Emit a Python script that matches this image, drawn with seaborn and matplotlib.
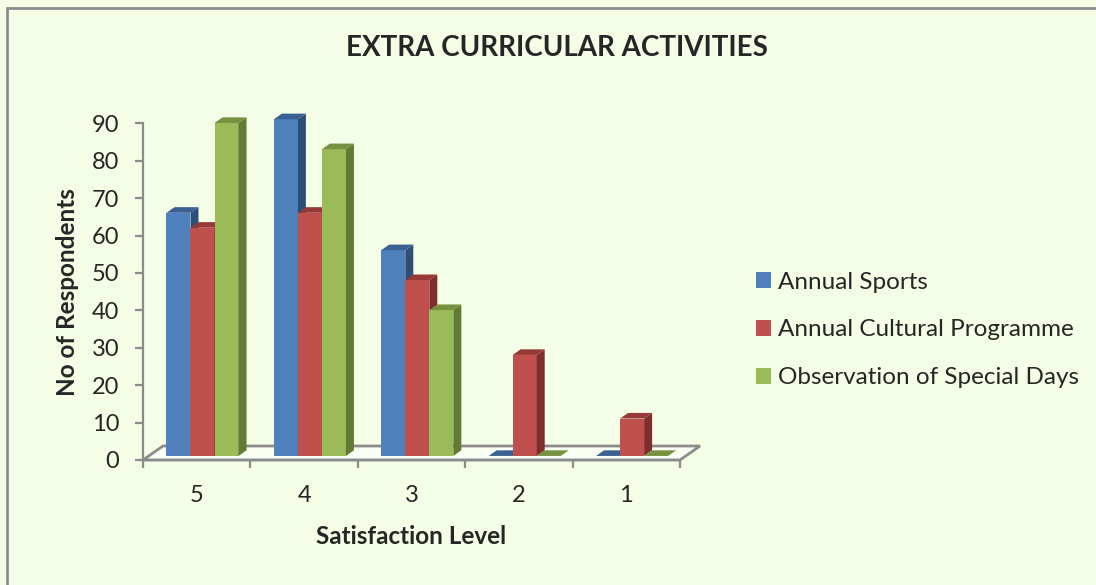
import matplotlib
matplotlib.use("Agg")
import matplotlib.pyplot as plt
import seaborn as sns
import pandas as pd
import numpy as np
from matplotlib.patches import Polygon, Rectangle

# -----------------------------
# Data
# -----------------------------
levels = ["5", "4", "3", "2", "1"]
series = ["Annual Sports", "Annual Cultural Programme", "Observation of Special Days"]
sports = [65, 90, 55, 0, 0]
cultural = [61, 65, 47, 27, 10]
special_days = [89, 82, 39, 0, 0]

front_colors = ["#4F81BD", "#C0504D", "#9BBB59"]
side_colors = ["#2F4E77", "#7E2F2D", "#617A34"]
top_colors = ["#3A6192", "#973A37", "#76913F"]

df = pd.DataFrame({
    "level": levels * 3,
    "series": [series[0]] * 5 + [series[1]] * 5 + [series[2]] * 5,
    "value": sports + cultural + special_days,
})

# -----------------------------
# Figure setup
# -----------------------------
sns.set_style("white")
plt.rcParams["font.family"] = ["Lato", "DejaVu Sans"]
bg = "#F4FDE6"
grey = "#8C8C8C"

fig = plt.figure(figsize=(10.96, 5.85), dpi=100)
fig.patch.set_facecolor(bg)
ax = fig.add_axes([143 / 1096, 125 / 585, 537 / 1096, 336.7 / 585])
ax.set_facecolor("none")

sns.barplot(data=df, x="level", y="value", hue="series", order=levels,
            hue_order=series, palette=front_colors, width=0.671,
            saturation=1, ax=ax, legend=True, zorder=3)

ax.set_xlim(-0.5, 4.5)
ax.set_ylim(0, 90)


def shift(pt, dx, dy):
    # move a data point by a pixel offset (3D depth)
    d = ax.transData.transform(pt) + np.array([dx, dy])
    return ax.transData.inverted().transform(d)


# floor depth in pixels and bar depth
floor_d = np.array([20.0, 14.0])
bar_front = 0.29 * floor_d
bar_d = 0.4 * floor_d

# floor
p0 = np.array([-0.5, 0])
p1 = np.array([4.5, 0])
floor = Polygon([p0, p1, shift(p1, *floor_d), shift(p0, *floor_d)],
                closed=True, facecolor="#FAFFF3", edgecolor=grey, lw=2,
                zorder=1, clip_on=False)
ax.add_patch(floor)

# bars -> 3D boxes
bars = [p for p in ax.patches if isinstance(p, Rectangle) and p is not floor]
bars = sorted(bars, key=lambda r: r.get_x())
for i, r in enumerate(bars):
    k = int(np.argmin([np.linalg.norm(np.array(r.get_facecolor()[:3]) -
                                      np.array(matplotlib.colors.to_rgb(c)))
                       for c in front_colors]))
    x0, w, h = r.get_x(), r.get_width(), r.get_height()
    bl = shift((x0, 0), *bar_front)
    tr = shift((x0 + w, h), *bar_front)
    r.set_x(bl[0])
    r.set_y(bl[1])
    r.set_width(tr[0] - bl[0])
    r.set_height(tr[1] - bl[1])
    r.set_edgecolor("none")
    r.set_clip_on(False)
    r.set_zorder(3 + i * 0.01)
    x_l, x_r, y_b, y_t = bl[0], tr[0], bl[1], tr[1]
    side = Polygon([(x_r, y_b), shift((x_r, y_b), *bar_d),
                    shift((x_r, y_t), *bar_d), (x_r, y_t)],
                   closed=True, facecolor=side_colors[k], edgecolor="none",
                   zorder=3 + i * 0.01 + 0.001, clip_on=False)
    top = Polygon([(x_l, y_t), (x_r, y_t), shift((x_r, y_t), *bar_d),
                   shift((x_l, y_t), *bar_d)],
                  closed=True, facecolor=top_colors[k], edgecolor="none",
                  zorder=3 + i * 0.01 + 0.002, clip_on=False)
    ax.add_patch(side)
    ax.add_patch(top)

# axes styling
for s in ["top", "right"]:
    ax.spines[s].set_visible(False)
for s in ["left", "bottom"]:
    ax.spines[s].set_color(grey)
    ax.spines[s].set_linewidth(1.6)
    ax.spines[s].set_zorder(2)

ax.set_yticks(range(0, 91, 10))
ax.tick_params(axis="y", direction="out", length=6, width=1.6, color=grey,
               labelsize=17, pad=11, left=True)
ax.set_xticks(np.arange(-0.5, 4.6, 1), minor=True)
ax.tick_params(axis="x", which="minor", direction="out", length=6, width=1.6,
               color=grey, bottom=True)
ax.tick_params(axis="x", which="major", length=0, labelsize=17, pad=18)
ax.grid(False)

ax.set_xlabel("Satisfaction Level", fontsize=17.5, fontweight="bold", labelpad=14)
ax.set_ylabel("No of Respondents", fontsize=17.5, fontweight="bold", labelpad=9)
fig.text(557 / 1096, 1 - 48 / 585, "EXTRA CURRICULAR ACTIVITIES",
         fontsize=20, fontweight="bold", ha="center", va="center")

# legend
handles, labels = ax.get_legend_handles_labels()
ax.get_legend().remove()
fig.legend(handles, labels, loc="center left",
           bbox_to_anchor=(734 / 1096, 1 - 330 / 585), frameon=False,
           fontsize=17.5, handlelength=0.62, handleheight=0.62,
           handletextpad=0.3, labelspacing=1.1)

# outer border
fig.patches.append(Rectangle((7 / 1096, -0.05), 1.2, 1 - 8 / 585 + 0.05,
                             transform=fig.transFigure, fill=False,
                             edgecolor=grey, lw=2))

fig.savefig("out.png", dpi=100, facecolor=bg)
